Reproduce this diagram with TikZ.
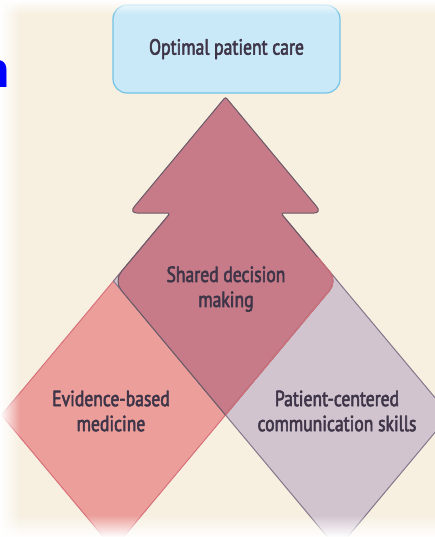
\documentclass[tikz,border=0pt]{standalone}
\usepackage{fontspec}
\setmainfont{PT Sans}[FakeStretch=0.8,FakeBold=2.5]
\newfontfamily\slidefont{Liberation Sans}
\usepackage{tikz}
\usetikzlibrary{
        positioning,
        calc,
        fadings
    }
\definecolor{cream}{HTML}{F7F0E1}
\definecolor{ebmfill}{HTML}{EC9E9A}
\definecolor{ebmline}{HTML}{D8707A}
\definecolor{pccfill}{HTML}{D1C4CF}
\definecolor{pccline}{HTML}{85768A}
\definecolor{sdmfill}{HTML}{C77B88}
\definecolor{sdmline}{HTML}{6A5966}
\definecolor{carefill}{HTML}{C9E9F8}
\definecolor{careline}{HTML}{74C3E6}
\definecolor{ink}{HTML}{3E3548}
\tikzset{lbl/.style={text=ink,align=center,inner sep=0pt,font=\fontsize{22}{25}\selectfont}}
\tikzset{carebox/.style={lbl,draw=careline,fill=carefill,line width=1.2pt,rounded corners=14pt,minimum width=227pt,minimum height=88pt}}

\begin{document}
\begin{tikzpicture}[x=1pt,y=-1pt,line join=round]
        \clip (0,0) rectangle (435,537);
        \fill[cream] (0,0) rectangle (435,537);

        % corners of the two boxes and of the arrow
        \coordinate (cross) at (225.5,415);
        \coordinate (ebmW) at (1.5,415);
        \coordinate (ebmS) at (113.5,549);
        \coordinate (pccE) at (449.5,415);
        \coordinate (pccS) at (337.5,549);
        \coordinate (sdmW) at (113.5,281);
        \coordinate (sdmE) at (337.5,281);
        \coordinate (sdmN) at (225.5,147);
        \coordinate (notchW) at (170.4,213);
        \coordinate (barbW) at (129,213);
        \coordinate (tip) at (225.5,97);
        \coordinate (barbE) at (322,213);
        \coordinate (notchE) at (280.6,213);

        \filldraw[fill=ebmfill,draw=ebmline,line width=1pt] (ebmW) -- (ebmS) -- (sdmE) -- (sdmN) -- cycle;
        \filldraw[fill=pccfill,draw=pccline,line width=1pt] (pccE) -- (pccS) -- (sdmW) -- (sdmN) -- cycle;

        \filldraw[fill=sdmfill,draw=sdmline,line width=1pt]
                (cross) [rounded corners=12pt] -- (sdmW) [rounded corners=3pt] -- (notchW)
                [rounded corners=8pt] -- (barbW) [rounded corners=2pt] -- (tip)
                [rounded corners=8pt] -- (barbE) [rounded corners=3pt] -- (notchE)
                [rounded corners=12pt] -- (sdmE) [sharp corners] -- cycle;
        \draw[ebmline,line width=1pt] ($(sdmE)!0.35!(notchE)$) [rounded corners=12pt] -- (sdmE) [sharp corners] -- (cross);

        \node[carebox] (care) at (226.5,49) {Optimal patient care};
        \node[lbl] (sdm) at (226,289) {Shared decision\\making};
        \node[lbl] (ebm) at (111,411) {Evidence-based\\medicine};
        \node[lbl] (pcc) at (337,411) {Patient-centered\\communication skills};

        % screen edges
        \fill[white,path fading=east] (0,0) rectangle (20,537);
        \fill[white,path fading=north] (0,515) rectangle (435,537);
        \fill[white,path fading=south] (0,0) rectangle (435,14);
        \node[anchor=base east,inner sep=0pt,text=blue,font=\slidefont\bfseries\fontsize{50}{50}\selectfont] (cut) at (10,87.5) {n};
\end{tikzpicture}
\end{document}
